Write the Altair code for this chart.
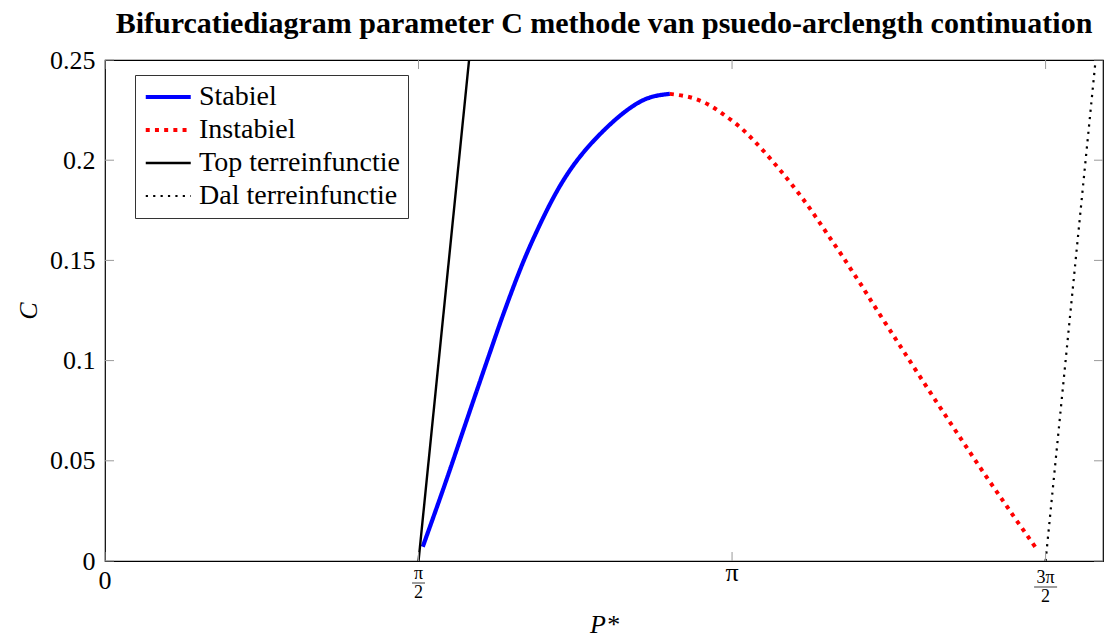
import math
import altair as alt
import pandas as pd

PI = math.pi
F = "Liberation Serif"

# ---- data ----
series_names = ["Stabiel", "Instabiel", "Top terreinfunctie", "Dal terreinfunctie"]

stable_P = [1.592, 1.695, 1.779, 1.862, 1.945, 1.995, 2.079, 2.163, 2.263, 2.380,
            2.514, 2.630, 2.730, 2.830]
stable_C = [0.0071, 0.0360, 0.0605, 0.0848, 0.1088, 0.1230, 0.1452, 0.1645, 0.1843,
            0.2018, 0.2163, 0.2260, 0.2313, 0.2331]

unstable_P = [2.830, 2.931, 3.020, 3.098, 3.173, 3.240, 3.303, 3.365, 3.423, 3.482,
              3.537, 3.591, 3.642, 3.694, 3.746, 3.796, 3.846, 3.946, 4.022, 4.098,
              4.175, 4.252, 4.329, 4.407, 4.487, 4.568, 4.648, 4.660]
unstable_C = [0.2331, 0.2314, 0.2279, 0.2229, 0.2172, 0.2109, 0.2042, 0.1971, 0.1901,
              0.1826, 0.1751, 0.1673, 0.1598, 0.1522, 0.1442, 0.1366, 0.1286, 0.1131,
              0.1014, 0.0897, 0.0780, 0.0664, 0.0549, 0.0433, 0.0318, 0.0201, 0.0088,
              0.0070]

top_P = [PI / 2, 1.824]
top_C = [0.0, 0.25]
dal_P = [3 * PI / 2, 4.963]
dal_C = [0.0, 0.25]

y_ticks = [0, 0.05, 0.1, 0.15, 0.2, 0.25]
x_ticks = [0, PI / 2, PI, 3 * PI / 2]
x_main_vals = [0, PI]
x_main_labels = ["0", "π"]
x_frac_vals = [PI / 2, 3 * PI / 2]
x_frac_num = ["π", "3π"]
x_frac_den = ["2", "2"]

# ---- tables ----
rows = []
for name, ps, cs in zip(series_names,
                        [stable_P, unstable_P, top_P, dal_P],
                        [stable_C, unstable_C, top_C, dal_C]):
    for i, (p, c) in enumerate(zip(ps, cs)):
        rows.append({"serie": name, "P": p, "C": c, "i": i})
df = pd.DataFrame(rows)

xs = alt.Scale(domain=[0, 5], nice=False, zero=False)
ys = alt.Scale(domain=[0, 0.25], nice=False, zero=False)

leg = alt.Legend(
    title=None, orient="none", legendX=30, legendY=15, padding=8,
    strokeColor="#333333", fillColor="white",
    labelFont=F, labelFontSize=28, labelColor="black", labelOffset=28,
    symbolType="M-1,0H3", symbolSize=506, rowPadding=5, labelLimit=400,
)

lines = alt.Chart(df).mark_line(strokeCap="butt", strokeJoin="round",
                                interpolate="natural").encode(
    x=alt.X("P:Q", scale=xs, axis=alt.Axis(
        values=x_ticks, labels=False, ticks=False, domain=False, grid=False,
        title="P*", titleFont=F, titleFontSize=26, titleFontStyle="italic",
        titleFontWeight="normal", titleColor="black", titlePadding=50)),
    y=alt.Y("C:Q", scale=ys, axis=alt.Axis(
        values=y_ticks, format="~g", ticks=False, domain=False, grid=False,
        labelFont=F, labelFontSize=26, labelColor="black", labelPadding=10,
        title="C", titleFont=F, titleFontSize=26, titleFontStyle="italic",
        titleFontWeight="normal", titleColor="black", titlePadding=8)),
    color=alt.Color("serie:N", sort=series_names,
                    scale=alt.Scale(domain=series_names,
                                    range=["#0000ff", "#ff0000", "#000000", "#000000"]),
                    legend=leg),
    strokeDash=alt.StrokeDash("serie:N", sort=series_names,
                              scale=alt.Scale(domain=series_names,
                                              range=[[1, 0], [4, 5.2], [1, 0], [2.2, 5.2]]),
                              legend=leg),
    strokeWidth=alt.StrokeWidth("serie:N", sort=series_names,
                                scale=alt.Scale(type="ordinal", domain=series_names,
                                                range=[4.2, 4.0, 2.4, 2.2]),
                                legend=leg),
    order="i:Q",
)

tick_color = "#9a9a9a"
ydf = pd.DataFrame({"C": y_ticks})
xdf = pd.DataFrame({"P": x_ticks})
ytl = alt.Chart(ydf).mark_rule(color=tick_color, strokeWidth=1).encode(
    y=alt.Y("C:Q", scale=ys), x=alt.value(0), x2=alt.value(9))
ytr = alt.Chart(ydf).mark_rule(color=tick_color, strokeWidth=1).encode(
    y=alt.Y("C:Q", scale=ys), x=alt.value(989), x2=alt.value(998))
xtb = alt.Chart(xdf).mark_rule(color=tick_color, strokeWidth=1).encode(
    x=alt.X("P:Q", scale=xs), y=alt.value(492), y2=alt.value(501))
xtt = alt.Chart(xdf).mark_rule(color=tick_color, strokeWidth=1).encode(
    x=alt.X("P:Q", scale=xs), y=alt.value(0), y2=alt.value(9))


def label_layer(val, txt, ypix, size):
    d = pd.DataFrame({"P": [val], "t": [txt]})
    return alt.Chart(d).mark_text(font=F, fontSize=size, baseline="alphabetic",
                                  align="center", color="black").encode(
        x=alt.X("P:Q", scale=xs), y=alt.value(ypix), text="t:N")


def bar_layer(val, txt, ypix):
    d = pd.DataFrame({"P": [val], "num": [txt]})
    return alt.Chart(d).transform_calculate(
        w="3 + 10 * length(datum.num)"
    ).mark_tick(orient="horizontal", thickness=1.1, color="black").encode(
        x=alt.X("P:Q", scale=xs), y=alt.value(ypix),
        size=alt.Size("w:Q", scale=None))


B = 501  # plot bottom in px
labels = [
    label_layer(x_main_vals[0], x_main_labels[0], B + 28, 26),
    label_layer(x_main_vals[1], x_main_labels[1], B + 20, 26),
]
for k, (val, num, den) in enumerate(zip(x_frac_vals, x_frac_num, x_frac_den)):
    shift = 0 if k == 0 else 4
    labels.append(label_layer(val, num, B + 18 + shift, 18))
    labels.append(bar_layer(val, num, B + 22 + shift))
    labels.append(label_layer(val, den, B + 37 + shift, 18))

chart = alt.layer(lines, ytl, ytr, xtb, xtt, *labels).properties(
    width=998, height=501,
    title=alt.TitleParams(
        "Bifurcatiediagram parameter C methode van psuedo-arclength continuation",
        font=F, fontSize=30, fontWeight="bold", color="black", anchor="middle",
        frame="group", offset=22, dy=14),
    padding={"left": 105, "top": 60, "right": 12, "bottom": 80},
    autosize=alt.AutoSizeParams(type="none"),
    background="white",
).configure_view(stroke="black", strokeWidth=1.2)

chart.save("out.html", embed_options={"renderer": "svg", "actions": False})
